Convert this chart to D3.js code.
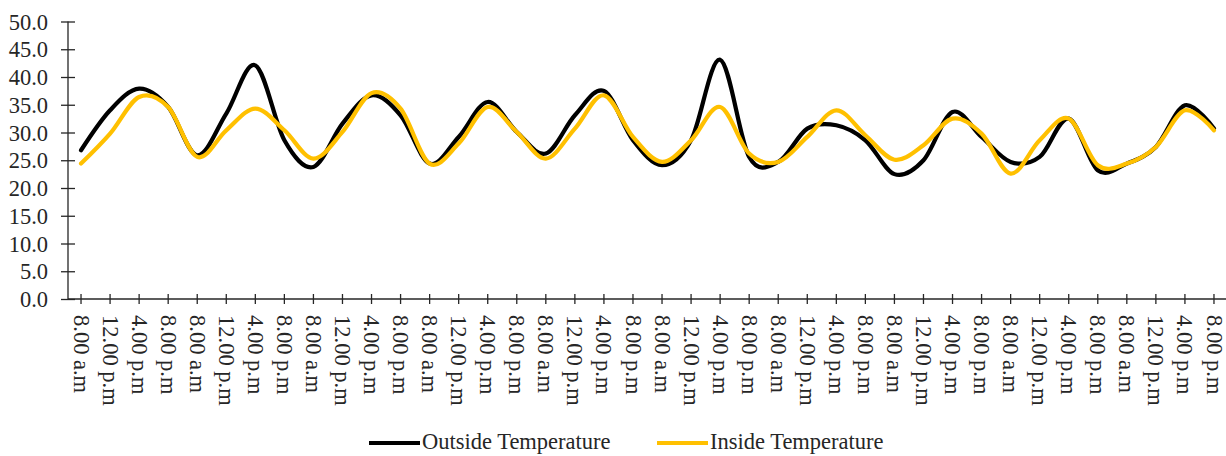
<!DOCTYPE html>
<html>
<head>
<meta charset="utf-8">
<script src="https://cdn.jsdelivr.net/npm/d3@7"></script>
<style>
  html, body { margin: 0; padding: 0; background: #fff; }
  svg { display: block; }
  text { font-family: "Liberation Serif", "Times New Roman", serif; fill: #262626; }
</style>
</head>
<body>
<svg id="chart" width="1226" height="456"></svg>
<script>
// Time of reading, four readings per day over ten days
const timeLabels = [
  "8.00 a.m", "12.00 p.m", "4.00 p.m", "8.00 p.m",
  "8.00 a.m", "12.00 p.m", "4.00 p.m", "8.00 p.m",
  "8.00 a.m", "12.00 p.m", "4.00 p.m", "8.00 p.m",
  "8.00 a.m", "12.00 p.m", "4.00 p.m", "8.00 p.m",
  "8.00 a.m", "12.00 p.m", "4.00 p.m", "8.00 p.m",
  "8.00 a.m", "12.00 p.m", "4.00 p.m", "8.00 p.m",
  "8.00 a.m", "12.00 p.m", "4.00 p.m", "8.00 p.m",
  "8.00 a.m", "12.00 p.m", "4.00 p.m", "8.00 p.m",
  "8.00 a.m", "12.00 p.m", "4.00 p.m", "8.00 p.m",
  "8.00 a.m", "12.00 p.m", "4.00 p.m", "8.00 p.m"
];

// Temperatures in °C
const outsideTemp = [
  26.8, 34.0, 37.9, 34.6, 25.9, 33.4, 42.1, 28.6,
  23.8, 31.6, 36.7, 33.1, 24.4, 29.2, 35.5, 30.1,
  26.2, 33.1, 37.5, 28.6, 24.1, 28.6, 43.1, 25.6,
  24.7, 30.7, 31.3, 28.6, 22.5, 25.0, 33.7, 29.2,
  24.7, 25.6, 32.5, 23.2, 24.4, 27.4, 34.9, 30.7
];
const insideTemp = [
  24.4, 29.8, 36.4, 34.6, 25.6, 30.4, 34.3, 30.4,
  25.3, 30.1, 37.1, 34.3, 24.4, 28.0, 34.6, 30.1,
  25.3, 30.7, 36.7, 29.2, 24.7, 28.6, 34.6, 26.2,
  24.7, 29.2, 34.0, 29.5, 25.1, 27.7, 32.5, 29.8,
  22.6, 28.6, 32.5, 24.1, 24.4, 27.4, 34.0, 30.4
];

const yTicks = [0, 5, 10, 15, 20, 25, 30, 35, 40, 45, 50];

const seriesNames = ["Outside Temperature", "Inside Temperature"];
const seriesColors = ["#000000", "#FFC000"];

const fontSize = "22.5px";
const inkColor = "#262626";

const svg = d3.select("#chart");

const x = d3.scaleBand()
  .domain(d3.range(timeLabels.length))
  .range([66.5, 1228.5])
  .paddingInner(0).paddingOuter(0);

const y = d3.scaleLinear().domain([0, 50]).range([299, 21.5]);

const axisX = 68;

// Y axis
const gy = svg.append("g")
  .attr("transform", `translate(${axisX},0)`)
  .call(d3.axisLeft(y).tickValues(yTicks).tickFormat(d3.format(".1f")).tickSizeOuter(0).tickSize(7));
gy.select(".domain").attr("stroke", inkColor).attr("stroke-width", 1.3)
  .attr("d", `M0,${y(0)}V${y(50)}`);
gy.selectAll(".tick line").attr("x1", -7).attr("x2", 7).attr("stroke", inkColor).attr("stroke-width", 1.3);
gy.selectAll(".tick text")
  .attr("x", -20)
  .attr("dy", "0.34em")
  .style("font-size", fontSize)
  .style("font-family", "'Liberation Serif', serif")
  .attr("fill", inkColor);

// X axis, labels turned to read downward
const gx = svg.append("g")
  .attr("transform", `translate(0,${y(0)})`)
  .call(d3.axisBottom(x).tickFormat(i => timeLabels[i]).tickSizeOuter(0).tickSize(5));
gx.select(".domain").attr("stroke", inkColor).attr("stroke-width", 1.3)
  .attr("d", `M${axisX},0H1226`);
gx.selectAll(".tick line").attr("y1", -5).attr("y2", 5).attr("stroke", inkColor).attr("stroke-width", 1.3);
gx.selectAll(".tick text")
  .attr("transform", "rotate(90)")
  .attr("x", 16)
  .attr("y", 0)
  .attr("dy", "0.33em")
  .attr("text-anchor", "start")
  .style("font-size", fontSize)
  .style("font-family", "'Liberation Serif', serif")
  .attr("fill", inkColor);

// Smoothed temperature lines
const line = d3.line()
  .x((d, i) => x(i) + x.bandwidth() / 2)
  .y(d => y(d))
  .curve(d3.curveCatmullRom.alpha(0));

[outsideTemp, insideTemp].forEach((vals, k) => {
  svg.append("path")
    .datum(vals)
    .attr("fill", "none")
    .attr("stroke", seriesColors[k])
    .attr("stroke-width", 4.2)
    .attr("stroke-linejoin", "round")
    .attr("stroke-linecap", "round")
    .attr("d", line);
});

// Legend
const legendItems = [
  { name: seriesNames[0], color: seriesColors[0], x0: 369 },
  { name: seriesNames[1], color: seriesColors[1], x0: 657 }
];
const lg = svg.append("g");
legendItems.forEach(it => {
  lg.append("line")
    .attr("x1", it.x0).attr("x2", it.x0 + 51)
    .attr("y1", 443).attr("y2", 443)
    .attr("stroke", it.color).attr("stroke-width", 4.2);
  lg.append("text")
    .attr("x", it.x0 + 53).attr("y", 449)
    .style("font-size", fontSize)
    .attr("fill", inkColor)
    .text(it.name);
});
</script>
</body>
</html>
